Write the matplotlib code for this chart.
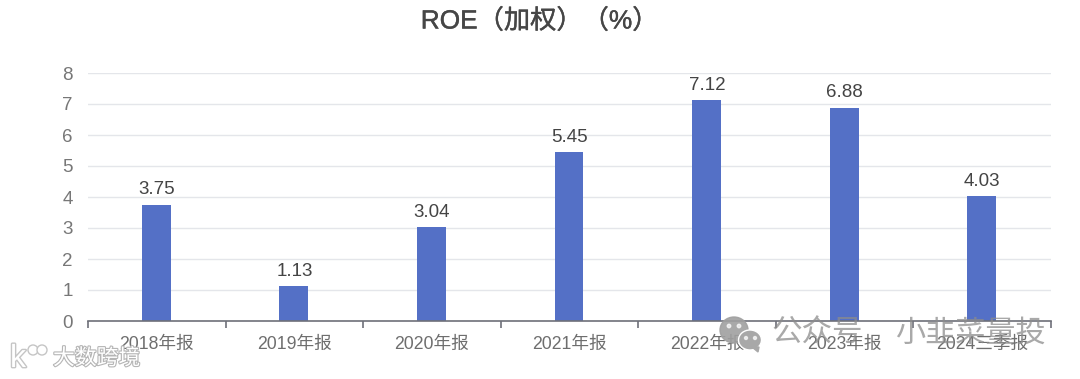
import matplotlib
matplotlib.use("Agg")
import matplotlib.pyplot as plt
import matplotlib.patheffects as pe
from matplotlib.patches import Ellipse, Polygon
import numpy as np

plt.rcParams["font.family"] = ["Liberation Sans", "Noto Sans CJK SC", "DejaVu Sans"]

periods = ["2018年报", "2019年报", "2020年报", "2021年报", "2022年报", "2023年报", "2024三季报"]
roe = [3.75, 1.13, 3.04, 5.45, 7.12, 6.88, 4.03]
value_labels = ["3.75", "1.13", "3.04", "5.45", "7.12", "6.88", "4.03"]
y_ticks = [0, 1, 2, 3, 4, 5, 6, 7, 8]

W, H = 1080, 379
fig = plt.figure(figsize=(W / 100, H / 100), dpi=100)
ax = fig.add_axes([88 / W, 1 - 321 / H, (1051 - 88) / W, (321 - 73) / H])

x = np.arange(len(periods))
ax.bar(x - 0.004, roe, width=0.21, color="#5470c6", zorder=3)
ax.set_xlim(-0.5, len(periods) - 0.5)
ax.set_ylim(0, 8)

for xi, v, lab in zip(x, roe, value_labels):
    ax.annotate(lab, (xi, v), xytext=(0, 4.5), textcoords="offset points", ha="center",
                va="bottom", fontsize=13.5, color="#444444", zorder=4)

ax.set_yticks(y_ticks)
ax.set_xticks(np.arange(len(periods) + 1) - 0.5, minor=False)
ax.set_xticklabels([])
ax.set_xticks(x, minor=True)
ax.set_xticklabels(periods, minor=True)
ax.tick_params(axis="x", which="major", length=5, width=1.2, color="#6e7079", direction="out")
ax.tick_params(axis="x", which="minor", length=0, pad=11, labelsize=12.7, labelcolor="#6e6e6e")
ax.tick_params(axis="y", length=0, pad=11, labelsize=13.5, labelcolor="#777777")
ax.grid(axis="y", color="#e4e6ea", linewidth=1, zorder=0)
for side in ["top", "left", "right"]:
    ax.spines[side].set_visible(False)
ax.spines["bottom"].set_color("#6e7079")
ax.spines["bottom"].set_linewidth(1.2)
ax.spines["bottom"].set_zorder(5)

fig.text(533 / W, 1 - 21 / H, "ROE（加权）（%）", ha="center", va="center",
         fontsize=18.9, color="#464646",
         path_effects=[pe.withStroke(linewidth=0.3, foreground="#464646")],
         position=(539.5 / W, 1 - 21 / H))

# watermarks
fig.text(771 / W, 1 - 334 / H, "公众号", ha="left", va="center", fontsize=22,
         color="#8c8c8c", alpha=0.75, zorder=6)
fig.text(895 / W, 1 - 334 / H, "小韭菜量投", ha="left", va="center", fontsize=21.7,
         color="#8c8c8c", alpha=0.75, zorder=6)
overlay = fig.add_axes([0, 0, 1, 1], facecolor="none")
overlay.set_xlim(0, W)
overlay.set_ylim(H, 0)
overlay.axis("off")
overlay.add_patch(Ellipse((734, 330), 28, 26, color="#a0a0a0", alpha=0.9))
overlay.add_patch(Ellipse((750, 340), 23, 20, fc="#a8a8a8", ec="white", lw=1))
overlay.add_patch(Polygon([(752, 347), (759, 347), (758, 352)], color="#a8a8a8"))
for ex, ey in [(729, 326), (739, 326)]:
    overlay.add_patch(Ellipse((ex, ey), 3.5, 3.5, color="white", alpha=0.7))
for ex, ey in [(746, 338), (755, 338)]:
    overlay.add_patch(Ellipse((ex, ey), 3, 3, color="white", alpha=0.7))

for cx, cy in [(33, 350), (42, 350)]:
    overlay.add_patch(Ellipse((cx, cy), 10, 10, fc="white", ec="#c5c5c5", lw=1))
fig.text(53 / W, 1 - 359 / H, "大数跨境", ha="left", va="center", fontsize=15.7,
         color="white", path_effects=[pe.withStroke(linewidth=1.6, foreground="#b5b5b5")])
fig.text(10 / W, 1 - 359 / H, "k", ha="left", va="center", fontsize=23, color="white",
         path_effects=[pe.withStroke(linewidth=2, foreground="#c5c5c5")])

fig.savefig("out.png", dpi=100)
